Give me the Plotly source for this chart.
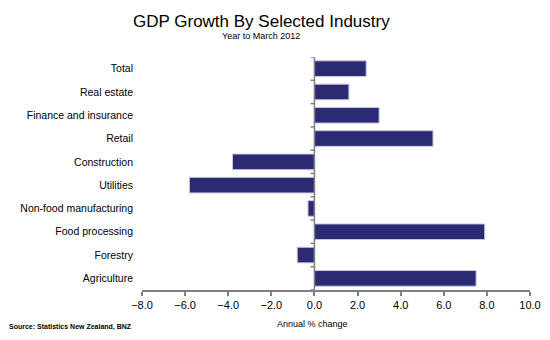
import plotly.graph_objects as go

categories = ["Total", "Real estate", "Finance and insurance", "Retail", "Construction",
              "Utilities", "Non-food manufacturing", "Food processing", "Forestry", "Agriculture"]
values = [2.4, 1.6, 3.0, 5.5, -3.8, -5.8, -0.3, 7.9, -0.8, 7.5]
x_ticks = [-8, -6, -4, -2, 0, 2, 4, 6, 8, 10]

W, H = 550, 340
L, R, T, B = 141.7, 530.5, 56.7, 290.0

def px(x):
    return (x - L) / (R - L)

def py(y):
    return (B - y) / (B - T)

fig = go.Figure(go.Bar(
    x=values, y=categories, orientation="h",
    marker=dict(color="#2b2a72", line=dict(color="#c9c9de", width=1)),
))

axis_col = "#808080"
shapes = [dict(type="line", xref="x", yref="y", x0=0, x1=0, y0=-0.5, y1=len(categories) - 0.5,
               line=dict(color=axis_col, width=1.5))]
for i in range(len(categories) + 1):
    shapes.append(dict(type="line", xref="x", yref="y", x0=-0.18, x1=0, y0=i - 0.5, y1=i - 0.5,
                       line=dict(color=axis_col, width=1.5)))

annotations = [
    dict(text="GDP Growth By Selected Industry", x=px(261), y=py(21), xref="paper", yref="paper",
         showarrow=False, xanchor="center", yanchor="middle",
         font=dict(family="Liberation Sans, Arial", size=17, color="black")),
    dict(text="Year to March 2012", x=px(261), y=py(35.5), xref="paper", yref="paper",
         showarrow=False, xanchor="center", yanchor="middle",
         font=dict(family="Liberation Sans, Arial", size=9, color="black")),
    dict(text="Annual % change", x=px(312.5), y=py(324), xref="paper", yref="paper",
         showarrow=False, xanchor="center", yanchor="middle",
         font=dict(family="Liberation Sans, Arial", size=9, color="black")),
    dict(text="<b>Source: Statistics New Zealand, BNZ</b>", x=px(6), y=py(327.5), xref="paper", yref="paper",
         showarrow=False, xanchor="left", yanchor="middle",
         font=dict(family="Liberation Sans, Arial", size=7, color="black")),
]

fig.update_layout(
    width=W, height=H,
    margin=dict(l=L, r=W - R, t=T, b=H - B, pad=0, autoexpand=False),
    paper_bgcolor="white", plot_bgcolor="white",
    bargap=0.33, showlegend=False,
    shapes=shapes, annotations=annotations,
    font=dict(family="Liberation Sans, Arial", size=11, color="black"),
)
fig.update_xaxes(range=[-8, 10], tickvals=x_ticks, tickformat=".1f", showgrid=False, zeroline=False,
                 showline=True, linecolor=axis_col, linewidth=1.5, ticks="outside", ticklen=4,
                 tickcolor=axis_col, tickwidth=1.5, tickfont=dict(size=11, color="black"),
                 automargin=False)
fig.update_yaxes(type="category", categoryorder="array", categoryarray=categories,
                 range=[len(categories) - 0.5, -0.5], showgrid=False, zeroline=False, showline=False,
                 ticks="", ticklabelstandoff=8, tickfont=dict(size=10.5, color="black"),
                 automargin=False)

fig.write_html("out.html")
